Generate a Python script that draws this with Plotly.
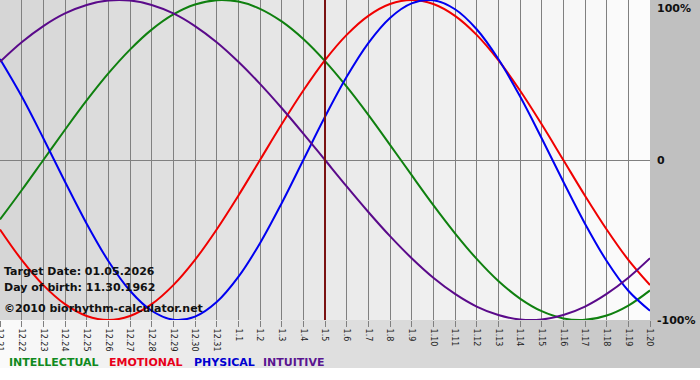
import plotly.graph_objects as go

# ---------------- data ----------------
dates = ["12.21", "12.22", "12.23", "12.24", "12.25", "12.26", "12.27", "12.28", "12.29", "12.30", "12.31",
         "1.1", "1.2", "1.3", "1.4", "1.5", "1.6", "1.7", "1.8", "1.9", "1.10",
         "1.11", "1.12", "1.13", "1.14", "1.15", "1.16", "1.17", "1.18", "1.19", "1.20"]

intellectual = [-0.372, -0.189, 0.0, 0.189, 0.372, 0.541, 0.690, 0.815, 0.910, 0.972, 0.999,
                0.990, 0.945, 0.866, 0.756, 0.618, 0.458, 0.282, 0.095, -0.095, -0.282,
                -0.458, -0.618, -0.756, -0.866, -0.945, -0.990, -0.999, -0.972, -0.910, -0.815]
emotional = [-0.434, -0.624, -0.782, -0.901, -0.975, -1.0, -0.975, -0.901, -0.782, -0.624, -0.434,
             -0.223, 0.0, 0.223, 0.434, 0.624, 0.782, 0.901, 0.975, 1.0, 0.975,
             0.901, 0.782, 0.624, 0.434, 0.223, 0.0, -0.223, -0.434, -0.624, -0.782]
physical = [0.631, 0.398, 0.136, -0.136, -0.398, -0.631, -0.817, -0.942, -0.998, -0.979, -0.888,
            -0.731, -0.520, -0.270, 0.0, 0.270, 0.520, 0.731, 0.888, 0.979, 0.998,
            0.942, 0.817, 0.631, 0.398, 0.136, -0.136, -0.398, -0.631, -0.817, -0.942]
intuitive = [0.614, 0.736, 0.837, 0.916, 0.969, 0.997, 0.997, 0.969, 0.916, 0.837, 0.736,
             0.614, 0.476, 0.325, 0.165, 0.0, -0.165, -0.325, -0.476, -0.614, -0.736,
             -0.837, -0.916, -0.969, -0.997, -0.997, -0.969, -0.916, -0.837, -0.736, -0.614]

series_names = ["INTELLECTUAL", "EMOTIONAL", "PHYSICAL", "INTUITIVE"]
target_label = "1.5"
info_lines = ["Target Date: 01.05.2026", "Day of birth: 11.30.1962", "\u00a92010 biorhythm-calculator.net"]
right_labels = ["100%", "0", "-100%"]
right_values = [1, 0, -1]

# ---------------- style ----------------
W, H = 700, 380
ML, MR, MT, MB = 0, 50, 0, 60
PW, PH = W - ML - MR, H - MT - MB
FONT = "DejaVu Sans"
line_colors = ["#0f800f", "#f00000", "#0000f0", "#5a0a8a"]
text_colors = ["#108a20", "#e8001a", "#0000d0", "#5a1590"]


def px(x):
    return (x - ML) / PW


def py(y):
    return (PH + MT - y) / PH


xs = list(range(len(dates)))
fig = go.Figure()
for name, vals, col in zip(series_names, [intellectual, emotional, physical, intuitive], line_colors):
    fig.add_trace(go.Scatter(x=xs, y=vals, mode="lines", name=name,
                             line=dict(color=col, width=2, shape="spline", smoothing=1.0),
                             hoverinfo="skip"))

shapes = []
# plot-area horizontal gradient (gray -> near white)
N = 65
for i in range(N):
    c = int(round(214 + (252 - 214) * (i + 0.5) / N))
    shapes.append(dict(type="rect", xref="paper", yref="paper", x0=i / N, x1=(i + 1) / N + 0.001,
                       y0=0, y1=1, fillcolor=f"rgb({c},{c},{c})", line=dict(width=0), layer="below"))
# bottom strip gradient (near white -> gray)
NB = 70
bx1 = px(W)
for i in range(NB):
    c = int(round(250 - (250 - 194) * (i + 0.5) / NB))
    shapes.append(dict(type="rect", xref="paper", yref="paper", x0=bx1 * i / NB, x1=bx1 * (i + 1) / NB + 0.001,
                       y0=py(368), y1=0, fillcolor=f"rgb({c},{c},{c})", line=dict(width=0), layer="below"))
# right margin
shapes.append(dict(type="rect", xref="paper", yref="paper", x0=1, x1=bx1, y0=0, y1=1,
                   fillcolor="#c0c0c0", line=dict(width=0), layer="below"))
# target date line
ti = dates.index(target_label)
shapes.append(dict(type="line", xref="x", yref="paper", x0=ti, x1=ti, y0=0, y1=1,
                   line=dict(color="#7a1212", width=2), layer="above"))

annotations = []
for txt, yy in zip(info_lines, [271, 287, 308]):
    annotations.append(dict(text=txt, xref="paper", yref="paper", x=px(2), y=py(yy),
                            xanchor="left", yanchor="middle", showarrow=False,
                            font=dict(family=FONT, size=11, color="#111111", weight="bold")))
for txt, v in zip(right_labels, right_values):
    annotations.append(dict(text=txt, xref="paper", yref="y", x=px(655), y=v,
                            xanchor="left", yanchor="top" if v == 1 else "middle", showarrow=False,
                            font=dict(family=FONT, size=11, color="#111111", weight="bold")))
for txt, x0, col in zip(series_names, [7, 107, 192, 261], text_colors):
    annotations.append(dict(text=txt, xref="paper", yref="paper", x=px(x0), y=py(362),
                            xanchor="left", yanchor="middle", showarrow=False,
                            font=dict(family=FONT, size=11, color=col, weight="bold")))

fig.update_layout(
    width=W, height=H, margin=dict(l=ML, r=MR, t=MT, b=MB, pad=0, autoexpand=False),
    paper_bgcolor="white", plot_bgcolor="rgba(0,0,0,0)",
    showlegend=False, shapes=shapes, annotations=annotations,
    xaxis=dict(range=[0, len(dates) - 1], tickvals=xs, ticktext=dates, tickangle=90,
               showgrid=True, gridcolor="#808080", gridwidth=1, zeroline=False,
               ticks="outside", ticklen=6, tickcolor="#808080", tickwidth=1,
               ticklabeloverflow="allow", automargin=False,
               tickfont=dict(family=FONT, size=8, color="#222222"), showline=False, fixedrange=True),
    yaxis=dict(range=[-1, 1], tickvals=[0], showticklabels=False, showgrid=True,
               gridcolor="#808080", gridwidth=1, zeroline=False, showline=False, fixedrange=True),
)

fig.write_html("out.html", config={"displayModeBar": False},
               post_script="document.body.style.margin='0';document.body.style.overflow='hidden';")
